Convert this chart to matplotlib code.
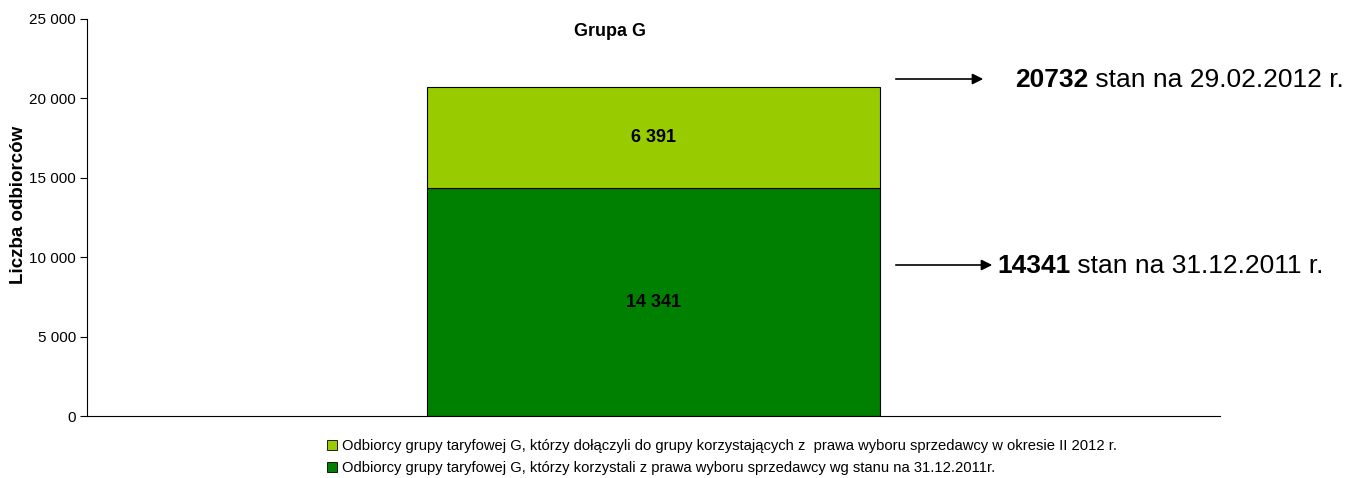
import numpy as np
import matplotlib.pyplot as plt
from matplotlib.patches import Patch
from matplotlib.ticker import FuncFormatter

plt.rcParams['font.family'] = ['Liberation Sans', 'DejaVu Sans']

# data
categories = ['']
base_vals = [14341]   # stan na 31.12.2011
new_vals = [6391]     # dolaczyli w okresie II 2012
totals = [20732]
legend_labels = [
    'Odbiorcy grupy taryfowej G, którzy dołączyli do grupy korzystających z  prawa wyboru sprzedawcy w okresie II 2012 r.',
    'Odbiorcy grupy taryfowej G, którzy korzystali z prawa wyboru sprzedawcy wg stanu na 31.12.2011r.',
]
yticks = [0, 5000, 10000, 15000, 20000, 25000]

c_dark = '#008000'
c_light = '#99CC00'
W, H = 1353, 478

fig = plt.figure(figsize=(W/100, H/100), dpi=100)
ax = fig.add_axes([87/W, 1-416/H, (1220-87)/W, (416-19)/H])

x = np.arange(len(categories))
ax.bar(x, base_vals, width=0.4, color=c_dark, edgecolor='black', linewidth=0.8)
ax.bar(x, new_vals, bottom=base_vals, width=0.4, color=c_light, edgecolor='black', linewidth=0.8)

def spaced(v):
    return '{:,}'.format(int(v)).replace(',', ' ')

# value labels in the middle of each segment
for i in range(len(x)):
    ax.text(x[i], base_vals[i]/2, spaced(base_vals[i]),
            ha='center', va='center', fontsize=13, fontweight='bold')
    ax.text(x[i], base_vals[i] + new_vals[i]/2, spaced(new_vals[i]),
            ha='center', va='center', fontsize=13, fontweight='bold')

ax.set_xlim(-0.5, 0.5)
ax.set_ylim(0, 25000)
ax.set_yticks(yticks)
ax.yaxis.set_major_formatter(FuncFormatter(lambda v, p: spaced(v)))
ax.tick_params(axis='y', labelsize=11, length=5, width=0.8, direction='out', pad=3)
ax.set_xticks([])
ax.spines['top'].set_visible(False)
ax.spines['right'].set_visible(False)
fig.text(19/W, 1-205/H, 'Liczba odbiorców', rotation=90, ha='center', va='center',
         fontsize=13.5, fontweight='bold')
fig.text(610/W, 1-31/H, 'Grupa G', ha='center', va='center', fontsize=13, fontweight='bold')

# arrows with totals on the right
arr = dict(arrowstyle='-|>', color='black', lw=1.2, mutation_scale=16)
fig.add_artist(plt.Annotation('', xy=(986/W, 1-79/H), xytext=(893/W, 1-79/H),
                              xycoords='figure fraction', arrowprops=arr))
fig.add_artist(plt.Annotation('', xy=(995/W, 1-265/H), xytext=(893/W, 1-265/H),
                              xycoords='figure fraction', arrowprops=arr))
t1 = fig.text(1015/W, 1-80/H, str(totals[0]), fontsize=19, fontweight='bold', va='center')
t2 = fig.text(997/W, 1-266/H, str(base_vals[0]), fontsize=19, fontweight='bold', va='center')
fig.canvas.draw()
r = fig.canvas.get_renderer()
for t, s in [(t1, ' stan na 29.02.2012 r.'), (t2, ' stan na 31.12.2011 r.')]:
    bb = t.get_window_extent(r)
    fig.text(bb.x1/W, t.get_position()[1], s, fontsize=19, va='center')

# legend
handles = [Patch(facecolor=c_light, edgecolor='black', linewidth=0.6),
           Patch(facecolor=c_dark, edgecolor='black', linewidth=0.6)]
fig.legend(handles, legend_labels, loc='upper left', bbox_to_anchor=(327/W, 1-439/H),
           frameon=False, fontsize=10.6, handlelength=0.7, handleheight=0.7,
           handletextpad=0.3, labelspacing=0.55, borderpad=0, borderaxespad=0)

fig.savefig('out.png', dpi=100)
